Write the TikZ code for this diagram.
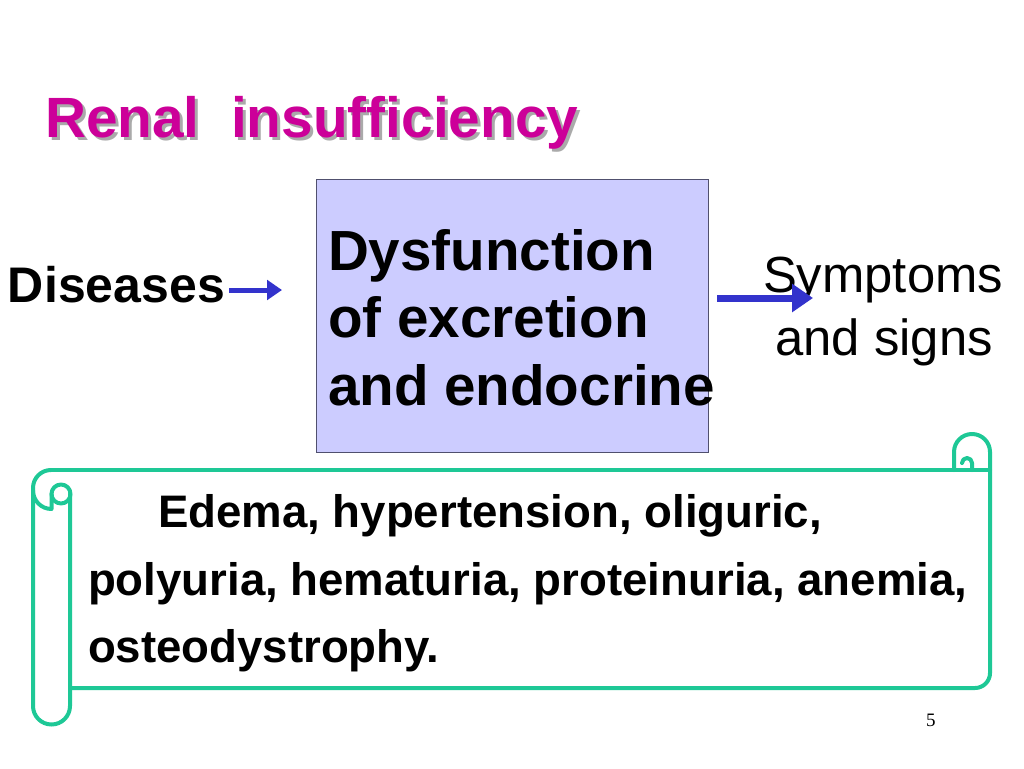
\documentclass[tikz,border=0pt]{standalone}
\usepackage{fontspec}
\setmainfont{Liberation Sans}[Ligatures=NoCommon]
\newfontfamily\serifnum{Liberation Serif}
\usetikzlibrary{arrows.meta}
\definecolor{titlemag}{RGB}{204,0,153}
\definecolor{shadowgray}{RGB}{170,170,170}
\definecolor{boxfill}{RGB}{204,204,255}
\definecolor{boxline}{RGB}{80,80,110}
\definecolor{arrblue}{RGB}{51,51,204}
\definecolor{scrollgreen}{RGB}{30,200,150}
\tikzset{
  txt/.style={inner sep=0pt, outer sep=0pt, anchor=base west},
  boldbig/.style={txt, font=\bfseries\fontsize{56.6}{67}\selectfont},
  scrolltxt/.style={txt, font=\bfseries\fontsize{45.6}{54}\selectfont},
  flowarrow/.style={draw=arrblue, -{Triangle[length=#1pt, width=1.3*#1pt]}},
  scrollline/.style={draw=scrollgreen, line width=4pt, line cap=round, line join=round}
}
\begin{document}
\begin{tikzpicture}[x=1pt,y=1pt]
\fill[white] (0,0) rectangle (1024,-768);
\useasboundingbox (0,0) rectangle (1024,-768);
% title with shadow
\node[txt, text=shadowgray, font=\bfseries\fontsize{56.8}{67}\selectfont] (titleshadow) at (48,-140) {Renal\ \ insufficiency};
\node[txt, text=titlemag, font=\bfseries\fontsize{56.8}{67}\selectfont] (title) at (45,-137) {Renal\ \ insufficiency};
% central box
\node[draw=boxline, fill=boxfill, line width=1pt, minimum width=392pt, minimum height=273pt, inner sep=0pt, anchor=north west] (box) at (316,-179) {};
\node[boldbig] (l1) at (328,-270) {Dysfunction};
\node[boldbig] (l2) at (328,-337) {of excretion};
\node[boldbig] (l3) at (328,-405) {and endocrine};
% left and right labels
\node[txt, font=\bfseries\fontsize{50}{60}\selectfont] (diseases) at (8,-302) {Diseases};
\node[inner sep=0pt, anchor=base, font=\fontsize{50.8}{60}\selectfont] (symp) at (883,-292) {Symptoms};
\node[inner sep=0pt, anchor=base, font=\fontsize{50.8}{60}\selectfont] (signs) at (884,-355) {and signs};
% arrows
\coordinate (a1s) at (229,-290);
\coordinate (a1e) at (282,-290);
\coordinate (a2s) at (717,-298);
\coordinate (a2e) at (813,-298);
\draw[flowarrow=15, line width=5pt] (a1s) -- (a1e);
\draw[flowarrow=21, line width=7pt] (a2s) -- (a2e);
% scroll
\draw[scrollline] (70,-688) -- (975,-688) arc[start angle=-90, end angle=0, radius=15]
  -- (990,-452) arc[start angle=0, end angle=180, radius=18] -- (954,-470);
\draw[scrollline] (51,-470) -- (990,-470);
\draw[scrollline] (962,-463) arc[start angle=180, end angle=0, radius=5] -- (972,-470);
\draw[scrollline] (51,-470) arc[start angle=90, end angle=180, radius=18]
  -- (33,-706) arc[start angle=180, end angle=360, radius=18.5] -- (70,-494);
\draw[scrollline] (61,-494) circle[radius=9.5];
\draw[scrollline] (51.5,-494) -- (51.5,-509) arc[start angle=270, end angle=180, radius=18.5];
% scroll text
\node[scrolltxt] (s1) at (158,-527) {Edema, hypertension, oliguric,};
\node[scrolltxt] (s2) at (88,-595) {polyuria, hematuria, proteinuria, anemia,};
\node[scrolltxt] (s3) at (88,-662) {osteodystrophy.};
% page number
\node[txt, font=\serifnum\fontsize{19}{22}\selectfont] (pnum) at (926,-726) {5};
\end{tikzpicture}
\end{document}
